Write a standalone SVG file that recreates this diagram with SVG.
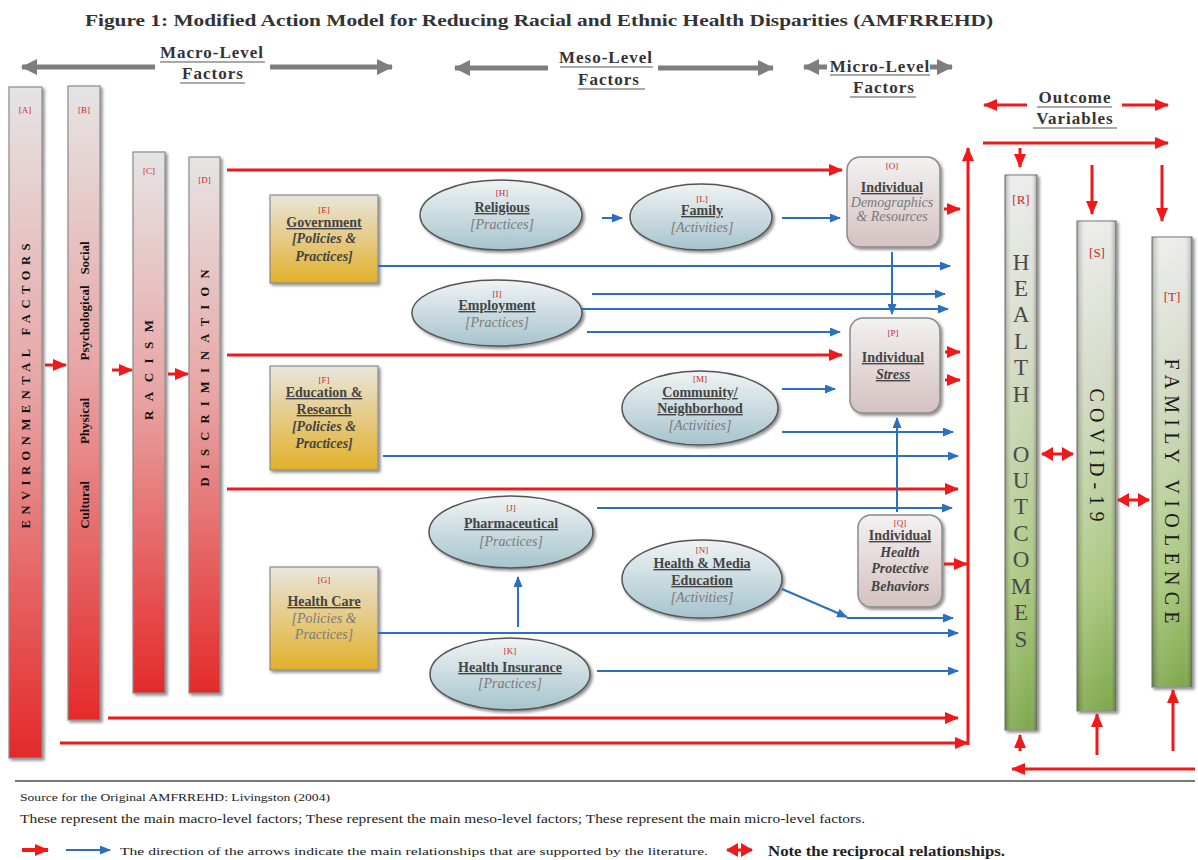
<svg xmlns="http://www.w3.org/2000/svg" width="1198" height="860" viewBox="0 0 1198 860">
<style>
text{font-family:"Liberation Serif","DejaVu Serif",serif;}
.lab{fill:#c62828;font-size:9px;text-anchor:middle;}
.lab2{fill:#c62828;font-size:13px;text-anchor:middle;}
.bh{fill:#444;font-size:14px;font-weight:bold;text-anchor:middle;text-decoration:underline;}
.it{fill:#7a7a7a;font-size:14px;font-style:italic;text-anchor:middle;}
.bi{fill:#444;font-size:14px;font-style:italic;font-weight:bold;text-anchor:middle;}
.hd{fill:#333;font-size:17px;font-weight:bold;text-anchor:middle;letter-spacing:1px;}
.hu{stroke:#555;stroke-width:1.2;}
.vt{fill:#111;font-weight:bold;text-anchor:middle;}
.gt{fill:#4a4a4a;font-size:23px;text-anchor:middle;}
.red{stroke:#f01818;stroke-width:3;fill:none;marker-end:url(#ar);}
.blue{stroke:#2a6fc0;stroke-width:2;fill:none;marker-end:url(#ab);}
.gray{stroke:#7e7e7e;stroke-width:5;fill:none;marker-end:url(#ag);}
.dbl{stroke:#f01818;stroke-width:3;fill:none;marker-end:url(#ad);marker-start:url(#ad);}
.bar{filter:url(#sh);stroke:#8a8a8a;stroke-width:1.2;}
.ft{fill:#222;}
</style>
<defs>
<marker id="ar" viewBox="0 0 14 12" refX="13" refY="6" markerWidth="14" markerHeight="12" markerUnits="userSpaceOnUse" orient="auto"><path d="M0,0 L14,6 L0,12 z" fill="#f01818"/></marker>
<marker id="ad" viewBox="0 0 12 14" refX="11" refY="7" markerWidth="12" markerHeight="14" markerUnits="userSpaceOnUse" orient="auto-start-reverse"><path d="M0,0 L12,7 L0,14 z" fill="#f01818"/></marker>
<marker id="ab" viewBox="0 0 11 9" refX="10" refY="4.5" markerWidth="11" markerHeight="9" markerUnits="userSpaceOnUse" orient="auto"><path d="M0,0 L11,4.5 L0,9 z" fill="#2a6fc0"/></marker>
<marker id="ag" viewBox="0 0 16 16" refX="15" refY="8" markerWidth="16" markerHeight="16" markerUnits="userSpaceOnUse" orient="auto"><path d="M0,0 L16,8 L0,16 z" fill="#7e7e7e"/></marker>
<linearGradient id="gr" x1="0" y1="0" x2="0" y2="1"><stop offset="0" stop-color="#e6e4e4"/><stop offset="0.45" stop-color="#e8a4a4"/><stop offset="1" stop-color="#e42a2a"/></linearGradient>
<linearGradient id="gg" x1="0" y1="0" x2="0" y2="1"><stop offset="0" stop-color="#e9e5dc"/><stop offset="1" stop-color="#e2b02a"/></linearGradient>
<linearGradient id="ge" x1="0" y1="0" x2="0" y2="1"><stop offset="0" stop-color="#f0f3f4"/><stop offset="1" stop-color="#a6c4cd"/></linearGradient>
<linearGradient id="gp" x1="0" y1="0" x2="0" y2="1"><stop offset="0" stop-color="#f3f1f1"/><stop offset="1" stop-color="#d5c1c1"/></linearGradient>
<linearGradient id="gv" x1="0" y1="0" x2="0" y2="1"><stop offset="0" stop-color="#ececec"/><stop offset="0.3" stop-color="#d5dbc9"/><stop offset="0.75" stop-color="#a9c77e"/><stop offset="1" stop-color="#7ea84c"/></linearGradient>
<linearGradient id="gvh" x1="0" y1="0" x2="1" y2="0"><stop offset="0" stop-color="#000" stop-opacity="0.25"/><stop offset="0.2" stop-color="#fff" stop-opacity="0.1"/><stop offset="0.8" stop-color="#fff" stop-opacity="0"/><stop offset="1" stop-color="#000" stop-opacity="0.3"/></linearGradient>
<filter id="sh" x="-30%" y="-10%" width="160%" height="120%"><feDropShadow dx="2" dy="2" stdDeviation="1.5" flood-color="#000" flood-opacity="0.45"/></filter>
</defs>
<rect width="1198" height="860" fill="#fff"/>
<text x="85" y="26" font-size="17" font-weight="bold" fill="#333" textLength="908" lengthAdjust="spacingAndGlyphs">Figure 1: Modified Action Model for Reducing Racial and Ethnic Health Disparities (AMFRREHD)</text>

<g id="headers">
<text class="hd" x="212" y="58">Macro-Level</text><line class="hu" x1="160" y1="62" x2="265" y2="62"/>
<text class="hd" x="213" y="79">Factors</text><line class="hu" x1="180" y1="83" x2="245" y2="83"/>
<text class="hd" x="606" y="63">Meso-Level</text><line class="hu" x1="560" y1="67" x2="653" y2="67"/>
<text class="hd" x="609" y="85">Factors</text><line class="hu" x1="578" y1="89" x2="645" y2="89"/>
<text class="hd" x="880" y="72">Micro-Level</text><line class="hu" x1="830" y1="75" x2="930" y2="75"/>
<text class="hd" x="884" y="93">Factors</text><line class="hu" x1="850" y1="97" x2="916" y2="97"/>
<text class="hd" x="1075" y="103">Outcome</text><line class="hu" x1="1037" y1="107" x2="1112" y2="107"/>
<text class="hd" x="1075" y="124">Variables</text><line class="hu" x1="1033" y1="128" x2="1117" y2="128"/>
</g>

<g id="bar-A"><rect class="bar" x="9" y="87" width="33" height="671" fill="url(#gr)"/><text class="lab" x="25" y="113">[A]</text>
<text class="vt" font-size="12.5" transform="translate(29.5,386) rotate(-90)" textLength="285" lengthAdjust="spacing">ENVIRONMENTAL FACTORS</text></g>
<g id="bar-B"><rect class="bar" x="68" y="86" width="32" height="634" fill="url(#gr)"/><text class="lab" x="84" y="113">[B]</text>
<text class="vt" font-size="13" transform="translate(88.5,505) rotate(-90)">Cultural</text>
<text class="vt" font-size="13" transform="translate(88.5,421) rotate(-90)">Physical</text>
<text class="vt" font-size="13" transform="translate(88.5,323) rotate(-90)">Psychological</text>
<text class="vt" font-size="13" transform="translate(88.5,258) rotate(-90)">Social</text></g>
<g id="bar-C"><rect class="bar" x="133" y="152" width="32" height="541" fill="url(#gr)"/><text class="lab" x="149" y="174">[C]</text>
<text class="vt" font-size="13" transform="translate(153,370) rotate(-90)" textLength="100" lengthAdjust="spacing">RACISM</text></g>
<g id="bar-D"><rect class="bar" x="189" y="157" width="31" height="536" fill="url(#gr)"/><text class="lab" x="204.5" y="183">[D]</text>
<text class="vt" font-size="12.5" transform="translate(209,378) rotate(-90)" textLength="217" lengthAdjust="spacing">DISCRIMINATION</text></g>

<g id="box-E"><rect class="bar" x="270" y="195" width="108" height="88" fill="url(#gg)"/>
<text class="lab" x="324" y="213">[E]</text><text class="bh" x="324" y="227">Government</text>
<text class="bi" x="324" y="243">[Policies &amp;</text><text class="bi" x="324" y="261">Practices]</text></g>
<g id="box-F"><rect class="bar" x="270" y="366" width="108" height="104" fill="url(#gg)"/>
<text class="lab" x="324" y="383">[F]</text><text class="bh" x="324" y="397">Education &amp;</text><text class="bh" x="324" y="414">Research</text>
<text class="bi" x="324" y="431">[Policies &amp;</text><text class="bi" x="324" y="448">Practices]</text></g>
<g id="box-G"><rect class="bar" x="270" y="567" width="108" height="103" fill="url(#gg)"/>
<text class="lab" x="324" y="583">[G]</text><text class="bh" x="324" y="606">Health Care</text>
<text class="it" x="324" y="623">[Policies &amp;</text><text class="it" x="324" y="639">Practices]</text></g>

<g id="ell-H"><ellipse cx="501" cy="215" rx="81" ry="35" fill="url(#ge)" stroke="#555" stroke-width="1.5" filter="url(#sh)"/>
<text class="lab" x="502" y="196">[H]</text><text class="bh" x="502" y="212">Religious</text><text class="it" x="502" y="229">[Practices]</text></g>
<g id="ell-I"><ellipse cx="497" cy="313" rx="85" ry="33" fill="url(#ge)" stroke="#555" stroke-width="1.5" filter="url(#sh)"/>
<text class="lab" x="497" y="297">[I]</text><text class="bh" x="497" y="310">Employment</text><text class="it" x="497" y="327">[Practices]</text></g>
<g id="ell-L"><ellipse cx="701" cy="217" rx="71" ry="33" fill="url(#ge)" stroke="#555" stroke-width="1.5" filter="url(#sh)"/>
<text class="lab" x="702" y="202">[L]</text><text class="bh" x="702" y="215">Family</text><text class="it" x="702" y="232">[Activities]</text></g>
<g id="ell-M"><ellipse cx="700" cy="408" rx="78" ry="37" fill="url(#ge)" stroke="#555" stroke-width="1.5" filter="url(#sh)"/>
<text class="lab" x="700" y="382">[M]</text><text class="bh" x="700" y="397">Community/</text><text class="bh" x="700" y="413">Neighborhood</text><text class="it" x="700" y="430">[Activities]</text></g>
<g id="ell-J"><ellipse cx="511" cy="532" rx="82" ry="36" fill="url(#ge)" stroke="#555" stroke-width="1.5" filter="url(#sh)"/>
<text class="lab" x="511" y="511">[J]</text><text class="bh" x="511" y="528">Pharmaceutical</text><text class="it" x="511" y="546">[Practices]</text></g>
<g id="ell-N"><ellipse cx="702" cy="579" rx="80" ry="39" fill="url(#ge)" stroke="#555" stroke-width="1.5" filter="url(#sh)"/>
<text class="lab" x="702" y="553">[N]</text><text class="bh" x="702" y="568">Health &amp; Media</text><text class="bh" x="702" y="585">Education</text><text class="it" x="702" y="602">[Activities]</text></g>
<g id="ell-K"><ellipse cx="510" cy="674" rx="80" ry="36" fill="url(#ge)" stroke="#555" stroke-width="1.5" filter="url(#sh)"/>
<text class="lab" x="510" y="654">[K]</text><text class="bh" x="510" y="672">Health Insurance</text><text class="it" x="510" y="688">[Practices]</text></g>

<g id="box-O"><rect x="847" y="157" width="93" height="90" rx="13" fill="url(#gp)" stroke="#8a8a8a" stroke-width="1.5" filter="url(#sh)"/>
<text class="lab" x="892" y="169">[O]</text><text class="bh" x="892" y="192">Individual</text>
<text class="it" x="892" y="207" font-size="12.5">Demographics</text><text class="it" x="892" y="221" font-size="12.5">&amp; Resources</text></g>
<g id="box-P"><rect x="850" y="318" width="90" height="95" rx="13" fill="url(#gp)" stroke="#8a8a8a" stroke-width="1.5" filter="url(#sh)"/>
<text class="lab" x="893" y="336">[P]</text><text class="bh" x="893" y="362" text-decoration="none">Individual</text>
<text class="bi" x="893" y="379" font-weight="normal" text-decoration="underline">Stress</text></g>
<g id="box-Q"><rect x="858" y="515" width="84" height="92" rx="13" fill="url(#gp)" stroke="#8a8a8a" stroke-width="1.5" filter="url(#sh)"/>
<text class="lab" x="900" y="526">[Q]</text><text class="bh" x="900" y="540">Individual</text>
<text class="bi" x="900" y="557">Health</text><text class="bi" x="900" y="573">Protective</text><text class="bi" x="900" y="591">Behaviors</text></g>

<g id="bar-R"><rect class="bar" x="1005" y="175" width="32" height="555" fill="url(#gv)" stroke="#7d8c6b"/><rect x="1005" y="175" width="32" height="555" fill="url(#gvh)"/>
<text class="lab2" x="1021" y="204">[R]</text>
<text class="gt"><tspan x="1021" y="270">H</tspan><tspan x="1021" y="296">E</tspan><tspan x="1021" y="322">A</tspan><tspan x="1021" y="349">L</tspan><tspan x="1021" y="375">T</tspan><tspan x="1021" y="402">H</tspan><tspan x="1021" y="462">O</tspan><tspan x="1021" y="488">U</tspan><tspan x="1021" y="514">T</tspan><tspan x="1021" y="541">C</tspan><tspan x="1021" y="567">O</tspan><tspan x="1021" y="594">M</tspan><tspan x="1021" y="620">E</tspan><tspan x="1021" y="647">S</tspan></text></g>
<g id="bar-S"><rect class="bar" x="1077" y="221" width="39" height="490" fill="url(#gv)" stroke="#7d8c6b"/><rect x="1077" y="221" width="39" height="490" fill="url(#gvh)"/>
<text class="lab2" x="1097" y="257">[S]</text>
<text fill="#1a1a1a" font-size="20" text-anchor="middle" transform="translate(1090,455) rotate(90)" textLength="133" lengthAdjust="spacing">COVID-19</text></g>
<g id="bar-T"><rect class="bar" x="1152" y="237" width="40" height="450" fill="url(#gv)" stroke="#7d8c6b"/><rect x="1152" y="237" width="40" height="450" fill="url(#gvh)"/>
<text class="lab2" x="1172" y="301">[T]</text>
<text fill="#1a1a1a" font-size="20" text-anchor="middle" transform="translate(1165,491) rotate(90)" textLength="265" lengthAdjust="spacing">FAMILY VIOLENCE</text></g>

<g id="connectors">
<path class="gray" d="M155,67 H22"/><path class="gray" d="M270,67 H392"/>
<path class="gray" d="M548,68 H455"/><path class="gray" d="M658,68 H773"/>
<path class="gray" d="M827,67 H804"/><path class="gray" d="M930,67 H952"/>
<path class="red" d="M1027,105 H984"/><path class="red" d="M1122,105 H1168"/>
<path class="red" d="M983,143 H1168"/>
<path class="red" d="M45,365 H66"/><path class="red" d="M112,370 H132"/><path class="red" d="M168,374 H188"/>
<path class="red" d="M227,170 H842"/><path class="red" d="M227,355 H842"/><path class="red" d="M227,489 H958"/>
<path class="red" d="M108,718 H958"/><path class="red" d="M60,743 H968"/>
<path class="red" d="M968,745 V148"/>
<path class="red" d="M944,209 H960"/><path class="red" d="M945,352 H960"/><path class="red" d="M945,380 H960"/><path class="red" d="M944,564 H967"/>
<path class="red" d="M1020,148 V167"/><path class="red" d="M1092,165 V214"/><path class="red" d="M1162,165 V221"/>
<path class="red" d="M1020,751 V735"/><path class="red" d="M1097,755 V714"/><path class="red" d="M1173,751 V690"/>
<path class="red" d="M1195,769 H1012"/>
<path class="dbl" d="M1042,454 H1073"/><path class="dbl" d="M1118,500 H1149"/>
<path class="blue" d="M378,266 H950"/>
<path class="blue" d="M602,218 H622"/><path class="blue" d="M782,218 H840"/>
<path class="blue" d="M592,294 H945"/><path class="blue" d="M582,309 H948"/><path class="blue" d="M587,332 H840"/>
<path class="blue" d="M892,252 V314"/>
<path class="blue" d="M782,389 H835"/><path class="blue" d="M782,432 H953"/>
<path class="blue" d="M383,456 H958"/>
<path class="blue" d="M897,512 V418"/>
<path class="blue" d="M597,508 H952"/>
<path class="blue" d="M782,589 L847,617" stroke-width="1.5"/><path class="blue" d="M847,618 H953" stroke-width="1.5"/>
<path class="blue" d="M378,633 H958"/>
<path class="blue" d="M518,627 V577"/>
<path class="blue" d="M597,671 H958"/>
</g>

<g id="footer">
<line x1="15" y1="781" x2="1195" y2="781" stroke="#777" stroke-width="2"/>
<text class="ft" x="20" y="801" font-size="11" textLength="310" lengthAdjust="spacingAndGlyphs">Source for the Original AMFRREHD: Livingston (2004)</text>
<text class="ft" x="20" y="823" font-size="12" textLength="845" lengthAdjust="spacingAndGlyphs">These represent the main macro-level factors;  These represent the main meso-level factors; These represent the main micro-level factors.</text>
<path d="M22,850 H48" stroke="#f01818" stroke-width="4" marker-end="url(#ar)"/>
<path d="M66,850 H110" class="blue"/>
<text class="ft" x="120" y="855" font-size="11" textLength="588" lengthAdjust="spacingAndGlyphs">The direction of the arrows indicate the main relationships that are supported by the literature.</text>
<path class="dbl" d="M727,850 H752"/>
<text class="ft" x="768" y="856" font-size="14" font-weight="bold" textLength="237" lengthAdjust="spacingAndGlyphs">Note the reciprocal relationships.</text>
</g>
</svg>
